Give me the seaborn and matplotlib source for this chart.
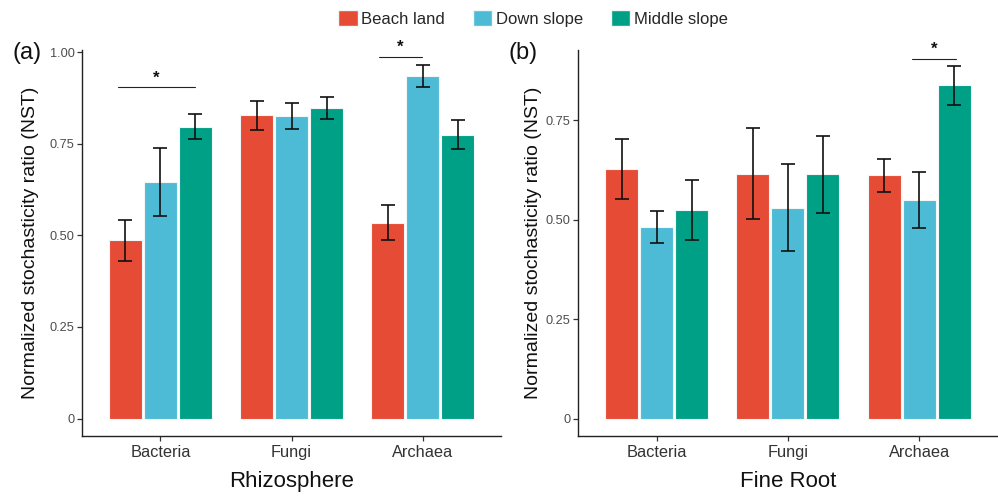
import numpy as np
import pandas as pd
import matplotlib
matplotlib.use("Agg")
import matplotlib.pyplot as plt
import matplotlib.patches as mpatches
import seaborn as sns

# ---------------- data ----------------
categories = ["Bacteria", "Fungi", "Archaea"]
groups = ["Beach land", "Down slope", "Middle slope"]
colors = ["#E64B35", "#4DBBD5", "#00A087"]

rhizo_beach = [0.486, 0.828, 0.535]
rhizo_down = [0.646, 0.826, 0.935]
rhizo_middle = [0.796, 0.847, 0.775]
rhizo_beach_err = [0.057, 0.040, 0.047]
rhizo_down_err = [0.093, 0.035, 0.030]
rhizo_middle_err = [0.034, 0.030, 0.040]

root_beach = [0.628, 0.616, 0.612]
root_down = [0.482, 0.531, 0.550]
root_middle = [0.524, 0.614, 0.838]
root_beach_err = [0.075, 0.115, 0.041]
root_down_err = [0.040, 0.110, 0.070]
root_middle_err = [0.075, 0.098, 0.050]

# significance annotations: (x start, x end, y)
rhizo_sig = [(-0.324, 0.264, 0.904), (1.668, 1.991, 0.987)]
root_sig = [(1.942, 2.284, 0.905)]

rhizo_ticks = [0, 0.25, 0.50, 0.75, 1.00]
rhizo_ticklabels = ["0", "0.25", "0.50", "0.75", "1.00"]
root_ticks = [0, 0.25, 0.50, 0.75]
root_ticklabels = ["0", "0.25", "0.50", "0.75"]


def make_df(means, errs):
    rows = []
    for g, m, e in zip(groups, means, errs):
        for c, v, s in zip(categories, m, e):
            rows.append({"cat": c, "group": g, "val": v, "err": s})
    return pd.DataFrame(rows)


df_rhizo = make_df([rhizo_beach, rhizo_down, rhizo_middle],
                   [rhizo_beach_err, rhizo_down_err, rhizo_middle_err])
df_root = make_df([root_beach, root_down, root_middle],
                  [root_beach_err, root_down_err, root_middle_err])

# ---------------- style ----------------
sns.set_theme(style="white")
plt.rcParams["font.family"] = ["Liberation Sans", "DejaVu Sans"]

fig = plt.figure(figsize=(9.98, 4.97), dpi=100)
ax_a = fig.add_axes([0.0819, 0.1233, 0.4206, 0.7761])
ax_b = fig.add_axes([0.5789, 0.1227, 0.4211, 0.7767])

palette = dict(zip(groups, colors))


def draw(ax, df, ylim, ticks, ticklabels, xlabel, sig, ylabelpad):
    sns.barplot(data=df, x="cat", y="val", hue="group", order=categories,
                hue_order=groups, palette=palette, errorbar=None,
                width=0.8, gap=0.06, edgecolor="#F2F6F6", linewidth=0.8,
                saturation=1, legend=False, ax=ax)
    # error bars from bar containers
    for g, cont in zip(groups, ax.containers):
        sub = df[df["group"] == g].set_index("cat").loc[categories]
        for bar, (_, r) in zip(cont.patches, sub.iterrows()):
            xc = bar.get_x() + bar.get_width() / 2
            ax.errorbar(xc, r["val"], yerr=r["err"], fmt="none",
                        ecolor="#111111", elinewidth=1.2, capsize=4.8,
                        capthick=1.2, zorder=5)
    ax.set_xlim(-0.6, 2.6)
    ax.set_ylim(*ylim)
    ax.set_yticks(ticks)
    ax.set_yticklabels(ticklabels)
    for s in ["top", "right"]:
        ax.spines[s].set_visible(False)
    for s in ["left", "bottom"]:
        ax.spines[s].set_color("#222222")
        ax.spines[s].set_linewidth(1.0)
    ax.tick_params(axis="both", which="both", direction="out", length=3.5,
                   width=0.9, color="#333333", left=True, bottom=True)
    ax.tick_params(axis="y", labelsize=9.2, labelcolor="#4D4D4D", pad=1.5)
    ax.tick_params(axis="x", labelsize=11.8, labelcolor="#333333", pad=3)
    ax.set_xlabel(xlabel, fontsize=16, color="#111111", labelpad=8)
    ax.set_ylabel("Normalized stochasticity ratio (NST)", fontsize=14,
                  color="#111111", labelpad=ylabelpad)
    for x0, x1, y in sig:
        ax.plot([x0, x1], [y, y], color="#222222", lw=0.8)
        ax.annotate("*", xy=((x0 + x1) / 2, y), xytext=(0, 1.5),
                    textcoords="offset points", ha="center", va="bottom",
                    fontsize=12, fontweight="bold", color="#111111")
    ax.grid(False)


draw(ax_a, df_rhizo, (-0.047, 1.006), rhizo_ticks, rhizo_ticklabels,
     "Rhizosphere", rhizo_sig, 8)
draw(ax_b, df_root, (-0.0435, 0.927), root_ticks, root_ticklabels,
     "Fine Root", root_sig, 3)

fig.text(0.0125, 0.893, "(a)", fontsize=17, ha="left", va="center",
         color="#111111")
fig.text(0.510, 0.893, "(b)", fontsize=17, ha="left", va="center",
         color="#111111")

handles = [mpatches.Patch(facecolor=c, edgecolor="#F2F6F6", label=g)
           for g, c in zip(groups, colors)]
fig.legend(handles=handles, loc="center", bbox_to_anchor=(0.534, 0.963),
           ncol=3, frameon=False, fontsize=12, handlelength=1.15,
           handleheight=1.15, handletextpad=0.2, columnspacing=1.7)

fig.savefig("out.png", dpi=100)
